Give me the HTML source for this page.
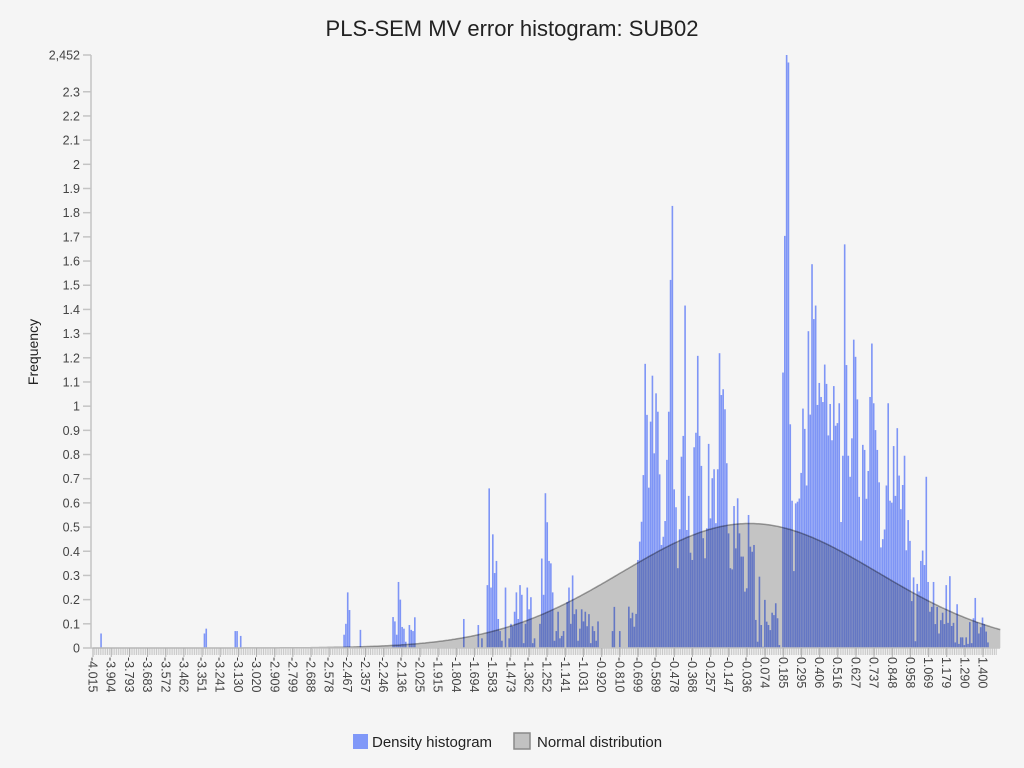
<!DOCTYPE html>
<html><head><meta charset="utf-8">
<style>
html,body{margin:0;padding:0;background:#f5f5f5;}
svg{display:block;font-family:"Liberation Sans",sans-serif;}
</style></head>
<body>
<svg id="chart" width="1024" height="768" viewBox="0 0 1024 768">
<rect x="0" y="0" width="1024" height="768" fill="#f5f5f5"/>
<text x="512" y="36" text-anchor="middle" font-size="22" fill="#222">PLS-SEM MV error histogram: SUB02</text>
<text transform="translate(38,352) rotate(-90)" text-anchor="middle" font-size="14" fill="#222">Frequency</text>
<g id="minor"></g>
<g id="bars"></g>
<g id="curve"></g>
<g id="axes"></g>
<g>
<g>
<rect x="353" y="734" width="15" height="15" fill="#8098f8"/>
<text x="372" y="747" font-size="15" fill="#222">Density histogram</text>
</g>
<g>
<rect x="514" y="733" width="16" height="16" fill="#c2c2c2" stroke="#8a8a8a" stroke-width="1.5"/>
<text x="537" y="747" font-size="15" fill="#222">Normal distribution</text>
</g>
</g>
</svg>
<script>
const binStart = -4.015;
const binWidth = 0.011035;
const binHeights = [
0,0,0,0,.06,0,0,0,0,0,
0,0,0,0,0,0,0,0,0,0,
0,0,0,0,0,0,0,0,0,0,
0,0,0,0,0,0,0,0,0,0,
0,0,0,0,0,0,0,0,0,0,
0,0,0,0,0,0,0,0,0,0,
0,.06,.08,0,0,0,0,0,0,0,
0,0,0,0,0,0,0,0,.07,.07,
0,.05,0,0,0,0,0,0,0,0,
0,0,0,0,0,0,0,0,0,0,
0,0,0,0,0,0,0,0,0,0,
0,0,0,0,0,0,0,0,0,0,
0,0,0,0,0,0,0,0,0,0,
0,0,0,0,0,0,0,0,.055,.10,
.23,.157,0,0,0,0,0,.075,0,0,
0,0,0,0,0,0,0,0,0,0,
0,0,0,0,0,.128,.11,.055,.273,.20,
.087,.08,.026,0,.095,.075,.07,.127,0,0,
0,0,0,0,0,0,0,0,0,0,
0,0,0,0,0,0,0,0,0,0,
0,0,0,0,.12,0,0,0,0,0,
0,0,.095,0,.04,0,0,.26,.66,.25,
.47,.31,.36,.12,.07,.03,0,.25,0,.04,
.10,.09,.15,.23,.12,.26,.22,.02,.10,.25,
.16,.21,.02,.04,0,0,.10,.37,.22,.64,
.52,.36,.35,.23,.03,.07,.15,.04,.05,.07,
0,.19,.25,.10,.30,.14,.16,.03,.08,.16,
.11,.15,.09,.14,.02,.09,.07,.03,.11,0,
0,0,0,0,0,0,.07,.17,0,0,
.07,0,0,0,0,.171,.123,.146,.088,.141,
.364,.44,.522,.715,1.175,.964,.663,.936,1.126,.805,
1.053,.977,.718,.426,.46,.525,.778,.977,1.522,1.828,
.656,.582,.33,.491,.791,.877,1.416,.488,.629,.394,
.364,.83,.89,1.208,.877,.753,.454,.371,.495,.844,
.536,.702,.739,.516,.739,1.219,1.046,1.07,.987,.764,
.474,.33,.325,.587,.412,.619,.474,.378,.378,.233,
.247,.55,.419,.398,.426,.116,.026,.295,.095,.005,
.199,.109,.095,.074,.146,.136,.185,.123,.012,0,1.139,
1.704,2.452,2.421,.925,.609,.318,.598,.605,.618,.724,
.99,.906,.672,1.31,.965,1.587,1.36,1.416,1.005,1.096,
1.038,1.017,1.172,1.092,.879,1.009,.859,1.083,.919,.93,
1.012,.521,.795,1.669,1.17,.795,.708,.867,1.275,1.204,
1.028,.625,.444,.84,.819,.617,.732,1.038,1.259,1.012,
.901,.819,.685,.416,.45,.49,.672,1.012,.609,.601,
.835,.629,.909,.713,.574,.674,.795,.404,.529,.443,
.194,.292,.028,.265,.234,.36,.403,.343,.708,.273,
.15,.17,.273,.099,.17,.06,.115,.146,.099,.26,
.104,.297,.091,.104,.023,.181,.017,.044,.044,.012,
.044,.017,.107,.02,.123,.207,.107,.06,.086,.126,
.099,.068,.023
];
const xTickLabels = ["-4.015","-3.904","-3.793","-3.683","-3.572","-3.462","-3.351","-3.241","-3.130","-3.020","-2.909","-2.799","-2.688","-2.578","-2.467","-2.357","-2.246","-2.136","-2.025","-1.915","-1.804","-1.694","-1.583","-1.473","-1.362","-1.252","-1.141","-1.031","-0.920","-0.810","-0.699","-0.589","-0.478","-0.368","-0.257","-0.147","-0.036","0.074","0.185","0.295","0.406","0.516","0.627","0.737","0.848","0.958","1.069","1.179","1.290","1.400"];
const yTickValues = [0,0.1,0.2,0.3,0.4,0.5,0.6,0.7,0.8,0.9,1,1.1,1.2,1.3,1.4,1.5,1.6,1.7,1.8,1.9,2,2.1,2.2,2.3,2.452];
const yTickLabels = ["0","0.1","0.2","0.3","0.4","0.5","0.6","0.7","0.8","0.9","1","1.1","1.2","1.3","1.4","1.5","1.6","1.7","1.8","1.9","2","2.1","2.2","2.3","2,452"];
const normalMean = [-0.02];
const normalSd = [0.78];
const normalPeak = [0.515];

const NS = "http://www.w3.org/2000/svg";
const X0 = 93, X1 = 983, V0 = -4.015, V1 = 1.400;
const Y0 = 648, YTOP = 55, YMAX = 2.452;
function xs(v){ return X0 + (v - V0) * (X1 - X0) / (V1 - V0); }
function ys(v){ return Y0 - v * (Y0 - YTOP) / YMAX; }
function mk(tag, attrs){ const e = document.createElementNS(NS, tag); for (const k in attrs) e.setAttribute(k, attrs[k]); return e; }

const minor = document.getElementById('minor');
for (let i = 0; i <= 498; i++) {
  const x = xs(binStart + i * binWidth);
  if (x > 1000) break;
  const t = mk('line', {x1:x, x2:x, y1:Y0, y2:Y0+7, stroke:'#c8c8c8', 'stroke-width':1});
  
  
  minor.appendChild(t);
}

const bars = document.getElementById('bars');
binHeights.forEach((h, i) => {
  if (h <= 0) return;
  const xa = xs(binStart + i * binWidth), xb = xs(binStart + (i + 1) * binWidth);
  const r = mk('rect', {x:xa, y:ys(h), width:Math.max(0.8, xb - xa - 0.2), height:Y0 - ys(h), fill:'rgb(92,122,246)', 'fill-opacity':0.78});
  
  
  bars.appendChild(r);
});

const curve = document.getElementById('curve');
let pts = [];
for (let v = V0; v <= 1.51; v += 0.01) {
  const z = (v - normalMean[0]) / normalSd[0];
  pts.push([xs(v), ys(normalPeak[0] * Math.exp(-0.5 * z * z))]);
}
const d = 'M' + pts.map(p => p[0].toFixed(1) + ',' + p[1].toFixed(1)).join(' L');
const area = mk('path', {d: d + ' L' + pts[pts.length-1][0].toFixed(1) + ',' + Y0 + ' L' + pts[0][0].toFixed(1) + ',' + Y0 + ' Z', fill:'rgba(0,0,0,0.2)'});


curve.appendChild(area);
const line = mk('path', {d:d, fill:'none', stroke:'rgba(0,0,0,0.35)', 'stroke-width':1.5});


curve.appendChild(line);

const axes = document.getElementById('axes');
const ya = mk('line', {x1:91, x2:91, y1:YTOP, y2:Y0, stroke:'#c4c4c4', 'stroke-width':1.5});


axes.appendChild(ya);
const xa = mk('line', {x1:91, x2:1000, y1:Y0, y2:Y0, stroke:'#c4c4c4', 'stroke-width':1.5});


axes.appendChild(xa);
yTickValues.forEach((v, i) => {
  const y = ys(v);
  const t = mk('line', {x1:83, x2:91, y1:y, y2:y, stroke:'#c4c4c4', 'stroke-width':1.5});
  
  
  axes.appendChild(t);
  const l = mk('text', {x:80, y:y + 4.5, 'text-anchor':'end', 'font-size':12.5, fill:'#444'});
  l.textContent = yTickLabels[i];
  
  
  axes.appendChild(l);
});
xTickLabels.forEach((s, i) => {
  const x = xs(parseFloat(s));
  const t = mk('line', {x1:x, x2:x, y1:Y0, y2:Y0+9, stroke:'#b0b0b0', 'stroke-width':1});
  
  
  axes.appendChild(t);
  const l = mk('text', {transform:'translate(' + (x - 4.5) + ',657) rotate(90)', 'font-size':12.5, fill:'#444'});
  l.textContent = s;
  
  
  axes.appendChild(l);
});
</script>
</body></html>
